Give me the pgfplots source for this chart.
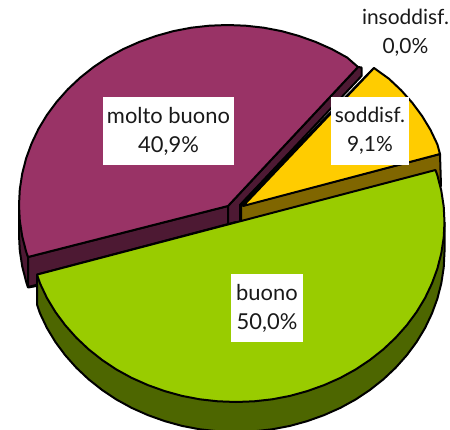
\documentclass[border=0pt]{standalone}
\usepackage{fontspec}
\setmainfont{Lato}
\usepackage{pgfplots}
\pgfplotsset{compat=1.18}
\definecolor{viola}{HTML}{993366}
\definecolor{violascuro}{HTML}{4D1933}
\definecolor{giallo}{HTML}{FFCC00}
\definecolor{ocra}{HTML}{806600}
\definecolor{verde}{HTML}{99CC00}
\definecolor{verdescuro}{HTML}{4D6600}
\tikzset{
  box/.style={fill=white,inner sep=0pt,align=center,text=black!90,
    font=\fontsize{22}{29}\selectfont},
  small box/.style={box,font=\fontsize{21}{29}\selectfont},
}
\begin{document}
\begin{tikzpicture}
\useasboundingbox (0,0) rectangle (450bp,430bp);
\begin{axis}[scale only axis,width=450bp,height=430bp,
  xmin=0,xmax=450,ymin=0,ymax=430,y dir=reverse,hide axis,
  every axis plot/.append style={draw=black,line width=2bp,line join=round},
]
% molto buono: outer side
\addplot[fill=violascuro] coordinates {
(19,205)(19,235)(19.8,250.7)(22.2,266.3)(26.1,281.6)(28,287.5)(36.5,286)(36.5,270)(28,257)(19,205)
};
% molto buono: front cut
\addplot[fill=violascuro] coordinates {
(28,257)(228,206)(228,236)(28,287)(28,257)
};
% molto buono: right cut
\addplot[fill=violascuro] coordinates {
(228,206)(358,67)(361.5,67.5)(361.5,76)(240,205)(240,236)(228,236)(228,206)
};
% molto buono: top
\addplot[fill=viola] coordinates {
(228,206)(358,67)(347.1,57.5)(331.8,49.1)(315.6,41.9)(298.8,35.9)(281.5,31.1)(263.7,27.7)
(245.7,25.7)(227.5,25)(209.3,25.7)(191.3,27.7)(173.5,31.1)(156.2,35.9)(139.4,41.9)(123.2,49.1)
(107.9,57.5)(93.5,67.1)(80.1,77.7)(67.8,89.3)(56.7,101.8)(46.9,115)(38.5,128.9)(31.6,143.4)
(26.1,158.4)(22.2,173.7)(19.8,189.3)(19,205)(19.8,220.7)(22.2,236.3)(26.1,251.6)(28,257)(228,206)
};
% soddisf.: left cut and front cut
\addplot[fill=black] coordinates {
(240,205)(371,71)(374,68)(243,206)(240,205)
};
\addplot[fill=ocra] coordinates {
(241,206)(440,154)(441,186)(241,238)(241,206)
};
% soddisf.: top
\addplot[fill=giallo] coordinates {
(243,206)(374,68)(388.9,78.7)(401.2,90.3)(412.3,102.8)(422.1,116)(430.5,129.9)(437.4,144.4)(440,154)(243,206)
};
% buono: side
\addplot[fill=verdescuro] coordinates {
(444.5,222)(444.5,252)(443.7,267.7)(441.3,283.3)(437.4,298.6)(431.9,313.6)(425,328.1)(416.6,342)
(406.8,355.2)(395.7,367.7)(383.4,379.3)(370,389.9)(355.6,399.5)(340.3,407.9)(324.1,415.1)(307.3,421.1)
(290,425.9)(272.2,429.3)(254.2,431.3)(236,432)(217.8,431.3)(199.8,429.3)(182,425.9)(164.7,421.1)
(147.9,415.1)(131.7,407.9)(116.4,399.5)(102,389.9)(88.6,379.3)(76.3,367.7)(65.2,355.2)(55.4,342)
(47,328.1)(40.1,313.6)(37,304.6)(37,274.6)(236,222)(444.5,222)
};
% buono: top
\addplot[fill=verde] coordinates {
(37,274.6)(435.5,170)(437.4,175.4)(441.3,190.7)(443.7,206.3)(444.5,222)(443.7,237.7)(441.3,253.3)
(437.4,268.6)(431.9,283.6)(425,298.1)(416.6,312)(406.8,325.2)(395.7,337.7)(383.4,349.3)(370,359.9)
(355.6,369.5)(340.3,377.9)(324.1,385.1)(307.3,391.1)(290,395.9)(272.2,399.3)(254.2,401.3)(236,402)
(217.8,401.3)(199.8,399.3)(182,395.9)(164.7,391.1)(147.9,385.1)(131.7,377.9)(116.4,369.5)(102,359.9)
(88.6,349.3)(76.3,337.7)(65.2,325.2)(55.4,312)(47,298.1)(40.1,283.6)(37,274.6)
};
% labels
\node[box,minimum width=131bp,minimum height=68bp] at (axis cs:168.5,131) {molto buono\\40,9\%};
\node[small box,minimum width=78bp,minimum height=68bp] at (axis cs:370,131) {soddisf.\\9,1\%};
\node[box,minimum width=72bp,minimum height=68bp] at (axis cs:267,308) {buono\\50,0\%};
\node[small box,fill=none] at (axis cs:405.5,33) {insoddisf.\\0,0\%};
\end{axis}
\end{tikzpicture}
\end{document}
